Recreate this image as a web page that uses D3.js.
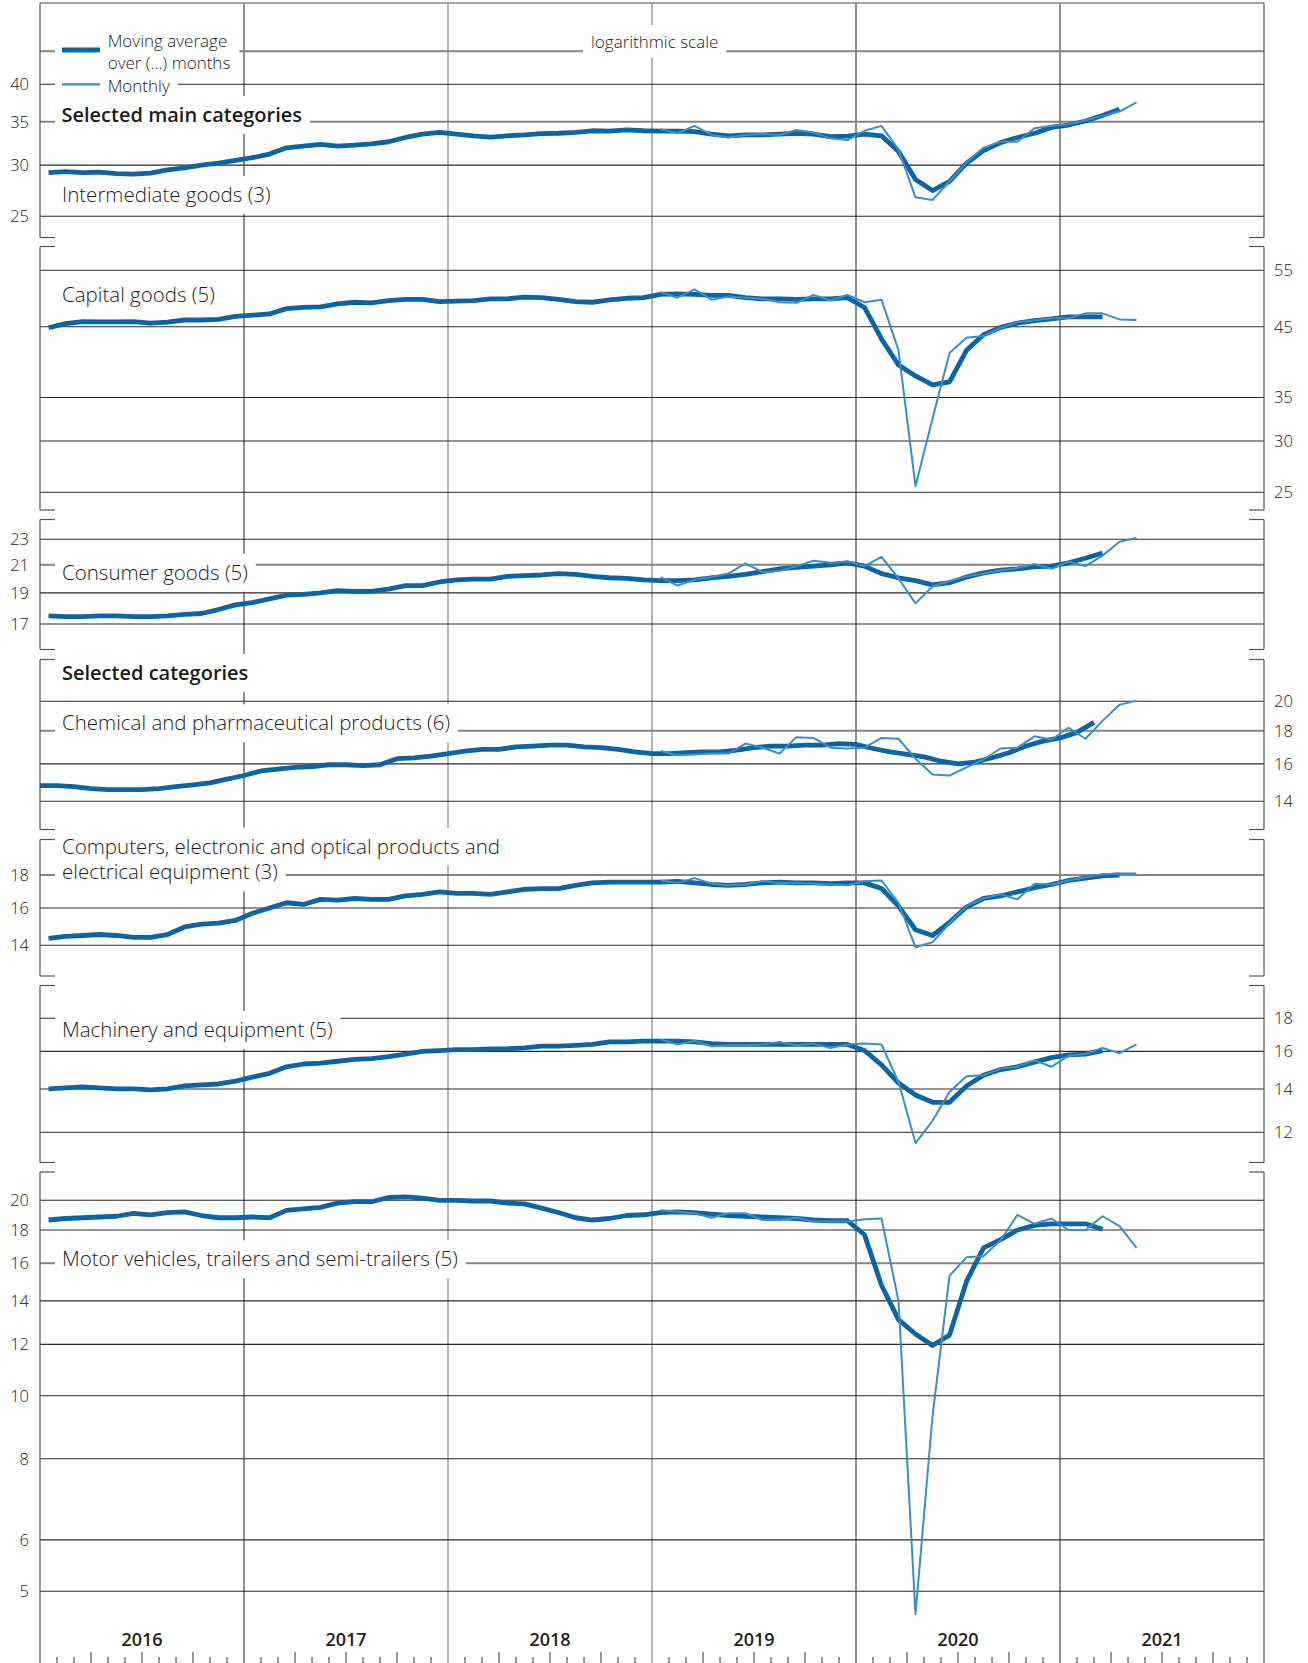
<!DOCTYPE html>
<html><head><meta charset="utf-8">
<script src="https://cdn.jsdelivr.net/npm/d3@7"></script>
<style>
body{margin:0;background:#fff}
svg{display:block}
text{font-family:"Open Sans","DejaVu Sans",sans-serif}
</style>
</head><body>
<svg id="c" width="1308" height="1663"></svg>
<script>
// ---------------- data ----------------
const years = ["2016","2017","2018","2019","2020","2021"];
const firstYear = 2016;
const monthlyFrom = "2019-01";

// Intermediate goods (3-month moving average from 2016-01) and monthly
const interMA = [29.2,29.3,29.2,29.25,29.1,29.05,29.15,29.5,29.7,30.0,
  30.2,30.5,30.8,31.2,31.9,32.1,32.3,32.1,32.2,32.35,
  32.6,33.1,33.5,33.7,33.5,33.3,33.15,33.3,33.4,33.55,
  33.6,33.7,33.9,33.85,34.0,33.9,33.85,33.85,33.8,33.5,
  33.3,33.4,33.4,33.5,33.6,33.5,33.2,33.25,33.5,33.3,
  31.5,28.5,27.4,28.3,30.2,31.6,32.5,33.1,33.6,34.3,
  34.6,35.1,35.8,36.6];
const interM = [34.1,33.6,34.5,33.4,33.1,33.4,33.5,33.4,34.0,33.7,33.0,32.8,
  33.9,34.5,31.7,26.75,26.5,28.3,30.3,31.9,32.6,32.6,34.2,34.5,
  34.7,35.2,35.75,36.3,37.5];

// Capital goods (5)
const capMA = [44.85,45.5,45.85,45.8,45.8,45.85,45.6,45.75,46.1,46.1,
  46.2,46.7,46.9,47.1,48.0,48.2,48.3,48.8,49.1,49.0,
  49.4,49.6,49.6,49.2,49.3,49.4,49.7,49.7,50.0,49.9,
  49.6,49.2,49.1,49.5,49.8,49.9,50.5,50.6,50.5,50.3,
  50.3,49.9,49.7,49.7,49.6,49.7,49.7,49.9,48.2,43.1,
  39.3,37.8,36.6,37.0,41.4,43.75,44.9,45.6,46.0,46.3,
  46.6,46.6,46.6];
const capM = [50.9,49.9,51.4,49.55,50.1,49.9,49.7,49.1,49.0,50.4,49.4,50.4,
  49.1,49.55,41.4,25.56,32.45,41.0,43.3,43.55,44.85,45.75,46.0,46.4,
  46.4,47.2,47.2,46.2,46.1];

// Consumer goods (5)
const conMA = [17.5,17.45,17.45,17.5,17.5,17.45,17.45,17.5,17.6,17.65,
  17.9,18.2,18.35,18.6,18.85,18.9,19.0,19.15,19.1,19.1,
  19.25,19.5,19.5,19.75,19.9,19.95,19.95,20.15,20.2,20.25,
  20.35,20.3,20.15,20.05,20.0,19.9,19.85,19.85,19.9,20.05,
  20.15,20.3,20.5,20.7,20.8,20.9,21.0,21.15,20.9,20.35,
  20.05,19.85,19.55,19.7,20.1,20.4,20.6,20.7,20.85,20.9,
  21.15,21.5,21.9];
const conM = [20.1,19.5,19.9,20.1,20.35,21.1,20.45,20.55,20.9,21.3,21.15,21.25,
  20.9,21.6,20.0,18.3,19.45,19.8,20.15,20.35,20.6,20.75,21.05,20.7,
  21.25,20.9,21.7,22.8,23.1];

// Chemical and pharmaceutical products (6) - average starts 2015-12
const chemMA = [14.8,14.8,14.75,14.65,14.6,14.6,14.6,14.65,14.75,14.85,
  14.95,15.15,15.35,15.6,15.7,15.8,15.85,15.95,15.95,15.9,
  15.95,16.3,16.35,16.45,16.6,16.75,16.85,16.85,17.0,17.05,
  17.1,17.1,17.0,16.95,16.85,16.7,16.6,16.6,16.65,16.7,
  16.7,16.8,16.95,17.05,17.05,17.1,17.1,17.2,17.15,16.9,
  16.7,16.55,16.4,16.15,16.0,16.1,16.35,16.65,17.05,17.35,
  17.55,17.9,18.55];
const chemM = [16.75,16.5,16.55,16.6,16.6,17.2,16.95,16.6,17.6,17.55,16.95,16.9,
  16.95,17.55,17.5,16.3,15.4,15.35,15.8,16.25,16.9,16.95,17.65,17.45,
  18.2,17.5,18.65,19.75,20.05];

// Computers, electronic and optical products and electrical equipment (3)
const compMA = [14.35,14.45,14.5,14.55,14.5,14.4,14.4,14.55,14.95,15.1,
  15.15,15.3,15.7,16.0,16.3,16.2,16.5,16.45,16.55,16.5,
  16.5,16.7,16.8,16.95,16.85,16.85,16.8,16.95,17.1,17.15,
  17.15,17.35,17.5,17.55,17.55,17.55,17.55,17.6,17.5,17.4,
  17.35,17.4,17.5,17.55,17.5,17.5,17.45,17.5,17.5,17.15,
  16.1,14.8,14.5,15.2,16.05,16.55,16.7,16.95,17.2,17.4,
  17.65,17.8,17.95,18.0];
const compM = [17.65,17.5,17.8,17.45,17.35,17.4,17.6,17.5,17.5,17.45,17.4,17.35,
  17.6,17.65,16.3,13.9,14.15,15.15,16.1,16.55,16.8,16.5,17.45,17.4,
  17.65,17.85,18.05,18.1,18.1];

// Machinery and equipment (5)
const machMA = [14.0,14.05,14.1,14.05,14.0,14.0,13.95,14.0,14.15,14.2,
  14.25,14.4,14.6,14.8,15.15,15.3,15.35,15.45,15.55,15.6,
  15.7,15.85,16.0,16.05,16.1,16.1,16.15,16.15,16.2,16.3,
  16.3,16.35,16.4,16.55,16.55,16.6,16.6,16.6,16.55,16.45,
  16.4,16.4,16.4,16.4,16.4,16.4,16.4,16.4,16.05,15.25,
  14.3,13.7,13.35,13.35,14.15,14.7,15.0,15.15,15.4,15.65,
  15.8,15.85,16.05];
const machM = [16.7,16.4,16.6,16.3,16.35,16.35,16.4,16.55,16.35,16.45,16.2,16.4,
  16.45,16.4,14.35,11.55,12.5,13.85,14.65,14.7,15.05,15.15,15.5,15.15,
  15.75,15.85,16.2,15.9,16.4];

// Motor vehicles, trailers and semi-trailers (5)
const motorMA = [18.65,18.75,18.8,18.85,18.9,19.1,19.0,19.15,19.2,18.95,
  18.8,18.8,18.85,18.8,19.3,19.4,19.5,19.8,19.9,19.9,
  20.2,20.25,20.15,20.0,20.0,19.95,19.95,19.8,19.75,19.45,
  19.15,18.8,18.65,18.75,18.95,19.0,19.15,19.2,19.15,19.05,
  18.95,18.9,18.85,18.8,18.75,18.65,18.6,18.6,17.7,14.8,
  13.1,12.45,11.95,12.4,15.0,16.9,17.4,18.0,18.3,18.4,
  18.4,18.4,18.05];
const motorM = [19.3,19.2,19.1,18.8,19.1,19.1,18.65,18.65,18.8,18.55,18.55,18.55,
  18.7,18.75,14.0,4.61,9.3,15.3,16.35,16.4,17.35,19.0,18.4,18.75,
  18.0,18.0,18.9,18.25,16.9];

// tick labels
const interTicks = [25,30,35,40];
const capTicks = [25,30,35,45,55];
const conTicks = [17,19,21,23];
const chemTicks = [14,16,18,20];
const compTicks = [14,16,18];
const machTicks = [12,14,16,18];
const motorTicks = [5,6,8,10,12,14,16,18,20];

// ---------------- layout ----------------
const W = 1308, H = 1663, X0 = 40, X1 = 1264;
const DARK = "#2a2a2a", GRAY = "#858585";
const THICK = "#0a64a5", THIN = "#3b8ec7";
const TXT = "#1c1c1c";

const panels = [
 {ma:interMA, maFrom:"2016-01", win:3, m:interM, grid:[25,30,35,40,45], ticks:interTicks, side:"left", gray:[35,45],
  domain:[25,40], range:[216.3,84.3], top:3, bottom:237.5, first:true,
  title:["Intermediate goods (3)"], titleY:[195]},
 {ma:capMA, maFrom:"2016-01", win:5, m:capM, grid:capTicks, ticks:capTicks, side:"right", gray:[],
  domain:[25,55], range:[492.3,270.3], top:246.5, bottom:510,
  title:["Capital goods (5)"], titleY:[295]},
 {ma:conMA, maFrom:"2016-01", win:5, m:conM, grid:conTicks, ticks:conTicks, side:"left", gray:[21],
  domain:[17,23], range:[624,539.3], top:519.5, bottom:649.5,
  title:["Consumer goods (5)"], titleY:[572.7]},
 {ma:chemMA, maFrom:"2015-12", win:6, m:chemM, grid:chemTicks, ticks:chemTicks, side:"right", gray:[18],
  domain:[14,20], range:[801.3,701.3], top:659.5, bottom:829.5,
  title:["Chemical and pharmaceutical products (6)"], titleY:[723.3]},
 {ma:compMA, maFrom:"2016-01", win:3, m:compM, grid:compTicks, ticks:compTicks, side:"left", gray:[18],
  domain:[14,18], range:[945.3,875], top:839.5, bottom:976,
  title:["Computers, electronic and optical products and","electrical equipment (3)"], titleY:[846.7,872.3]},
 {ma:machMA, maFrom:"2016-01", win:5, m:machM, grid:machTicks, ticks:machTicks, side:"right", gray:[],
  domain:[12,18], range:[1132.3,1018.3], top:985.5, bottom:1162.5,
  title:["Machinery and equipment (5)"], titleY:[1030]},
 {ma:motorMA, maFrom:"2016-01", win:5, m:motorM, grid:motorTicks, ticks:motorTicks, side:"left", gray:[16],
  domain:[5,20], range:[1591.3,1200.3], top:1172, bottom:H, last:true,
  title:["Motor vehicles, trailers and semi-trailers (5)"], titleY:[1259.3]}
];

// ---------------- drawing ----------------
const svg = d3.select("#c");
const x = d3.scaleLinear().domain([0, years.length*12]).range([X0, X1]);
function mIdx(s){ const p = s.split("-").map(Number); return (p[0]-firstYear)*12 + (p[1]-1); }

const gV = svg.append("g"), gH = svg.append("g"), gF = svg.append("g");
const gB = svg.append("g"), gT = svg.append("g"), gL = svg.append("g"), gX = svg.append("g");

// vertical year lines
const yearLineColor = ["#333","#777","#9a9a9a","#333","#333"];
d3.range(1, years.length).forEach((k,i) => {
  gV.append("line").attr("x1", x(k*12)).attr("x2", x(k*12)).attr("y1", 3).attr("y2", H)
    .attr("stroke", yearLineColor[i]).attr("stroke-width", i===2?1.5:1.1);
});

// top frame line
gF.append("line").attr("x1", X0).attr("x2", X1).attr("y1", 3).attr("y2", 3)
  .attr("stroke", "#888").attr("stroke-width", 1.5);

function box(xs, xe, cy, h){
  gB.append("rect").attr("x", xs).attr("y", cy - h/2).attr("width", xe - xs).attr("height", h).attr("fill", "#fff");
}
function label(txt, tx, cy, size, weight, pad){
  const t = gT.append("text").attr("x", tx).attr("y", cy).attr("dy", "0.35em")
    .attr("font-size", size).attr("font-weight", weight).attr("fill", TXT).text(txt);
  const len = t.node().getComputedTextLength();
  if (pad !== false) box(55, tx + len + 8, cy, 38);
  return len;
}

panels.forEach(p => {
  const y = d3.scaleLog().domain(p.domain).range(p.range);
  // gridlines
  p.grid.forEach(v => {
    const g = p.gray.includes(v);
    gH.append("line").attr("x1", X0).attr("x2", X1).attr("y1", y(v)).attr("y2", y(v))
      .attr("stroke", g ? GRAY : DARK).attr("stroke-width", g ? 2 : 1.1);
  });
  // frame sides + bracket ticks
  [X0, X1].forEach(xx => {
    gF.append("line").attr("x1", xx).attr("x2", xx).attr("y1", p.top).attr("y2", p.bottom)
      .attr("stroke", "#555").attr("stroke-width", 1.2);
    const dir = xx === X0 ? 1 : -1;
    if (!p.first) gF.append("line").attr("x1", xx).attr("x2", xx + dir*15).attr("y1", p.top).attr("y2", p.top)
      .attr("stroke", "#555").attr("stroke-width", 1.2);
    if (!p.last) gF.append("line").attr("x1", xx).attr("x2", xx + dir*15).attr("y1", p.bottom).attr("y2", p.bottom)
      .attr("stroke", "#555").attr("stroke-width", 1.2);
  });
  // axis labels
  p.ticks.forEach(v => {
    gT.append("text").attr("x", p.side === "left" ? 29 : 1274).attr("y", y(v)).attr("dy", "0.35em")
      .attr("text-anchor", p.side === "left" ? "end" : "start")
      .attr("font-size", 16.5).attr("font-weight", 300).attr("fill", "#222").text(v);
  });
  // titles
  p.title.forEach((t, i) => label(t, 62, p.titleY[i], 20.5, 300));
  // lines
  const shift = p.win % 2 === 0 ? 0.5 : 0;
  const s0 = mIdx(p.maFrom), s1 = mIdx(monthlyFrom);
  const maPts = p.ma.map((v, i) => [x(s0 + i + 0.5 + shift), y(v)]);
  const mPts = p.m.map((v, i) => [x(s1 + i + 0.5), y(v)]);
  const line = d3.line();
  gL.append("path").attr("d", line(maPts)).attr("fill", "none").attr("stroke", THICK)
    .attr("stroke-width", 4.8).attr("stroke-linejoin", "round");
  gL.append("path").attr("d", line(mPts)).attr("fill", "none").attr("stroke", THIN)
    .attr("stroke-width", 2).attr("stroke-linejoin", "round");
});

// headings
label("Selected main categories", 61.5, 115, 20, 600);
label("Selected categories", 62, 673, 20, 600);

// legend
const l1 = label("Moving average", 107.7, 40.7, 17, 300, false);
const l2 = label("over (...) months", 107.7, 62.7, 17, 300, false);
const l3 = label("Monthly", 107.7, 85.7, 17, 300, false);
box(55, 107.7 + Math.max(l1, l2) + 9, 49, 52);
box(55, 107.7 + l3 + 8, 86, 26);
gX.append("line").attr("x1", 62).attr("x2", 100).attr("y1", 50).attr("y2", 50).attr("stroke", THICK).attr("stroke-width", 5);
gX.append("line").attr("x1", 62).attr("x2", 100).attr("y1", 84.3).attr("y2", 84.3).attr("stroke", THIN).attr("stroke-width", 2.2);
const ls = gT.append("text").attr("x", 591).attr("y", 41.7).attr("dy", "0.35em").attr("font-size", 17).attr("font-weight", 300).attr("fill", TXT).text("logarithmic scale");
const lsLen = ls.node().getComputedTextLength();
gB.append("rect").attr("x", 583).attr("y", 25).attr("width", lsLen + 16).attr("height", 33).attr("fill", "#fff");

// x axis: year labels and month ticks
years.forEach((yr, k) => {
  gX.append("text").attr("x", x(k*12 + 6)).attr("y", 1640).attr("dy", "0.35em").attr("text-anchor", "middle")
    .attr("font-size", 18).attr("font-weight", 600).attr("fill", "#222").text(yr);
});
d3.range(1, years.length*12).filter(m => m % 12 !== 0).forEach(m => {
  gX.append("line").attr("x1", x(m)).attr("x2", x(m)).attr("y1", m % 3 === 0 ? 1652 : 1657).attr("y2", H)
    .attr("stroke", "#333").attr("stroke-width", 1);
});
</script>
</body></html>
